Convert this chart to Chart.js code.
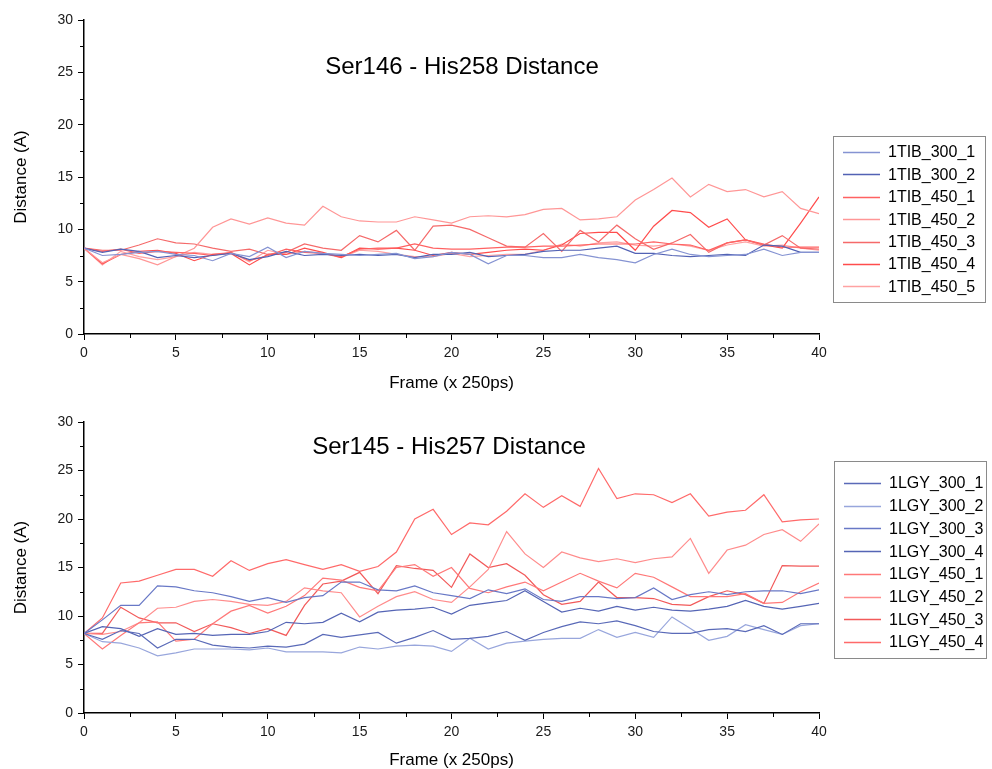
<!DOCTYPE html>
<html>
<head>
<meta charset="utf-8">
<title>Ser-His distances</title>
<script src="https://cdn.jsdelivr.net/npm/chart.js@4.4.1/dist/chart.umd.min.js"></script>
<style>
  html, body { margin: 0; padding: 0; background: #fff; }
  #wrap { position: relative; width: 992px; height: 769px; }
  canvas { position: absolute; left: 0; }
  #top { top: 0; }
  #bottom { top: 395px; }
</style>
</head>
<body>
<div id="wrap">
  <canvas id="top" width="992" height="395"></canvas>
  <canvas id="bottom" width="992" height="374"></canvas>
</div>
<script>
// frames (x 250ps)
const frames = [0, 1, 2, 3, 4, 5, 6, 7, 8, 9, 10, 11, 12, 13, 14, 15, 16, 17, 18, 19, 20,
                21, 22, 23, 24, 25, 26, 27, 28, 29, 30, 31, 32, 33, 34, 35, 36, 37, 38, 39, 40];

// Ser146 - His258 (1TIB)
const tibLabels = ['1TIB_300_1', '1TIB_300_2', '1TIB_450_1', '1TIB_450_2', '1TIB_450_3', '1TIB_450_4', '1TIB_450_5'];
const tib300_1 = [8.2, 7.5, 7.6, 7.8, 7.9, 7.6, 7.5, 7.0, 7.7, 7.4, 8.3, 7.3, 7.9, 7.7, 7.6, 7.5, 7.6, 7.7, 7.2, 7.4, 7.8,
                  7.6, 6.7, 7.5, 7.5, 7.3, 7.3, 7.6, 7.3, 7.1, 6.8, 7.6, 8.1, 7.6, 7.4, 7.5, 7.6, 8.1, 7.5, 7.8, 7.8];
const tib300_2 = [8.2, 7.8, 8.1, 7.9, 7.3, 7.5, 7.3, 7.5, 7.7, 7.1, 7.4, 7.9, 7.5, 7.6, 7.5, 7.6, 7.5, 7.6, 7.3, 7.6, 7.6,
                  7.8, 7.4, 7.5, 7.6, 7.9, 8.0, 8.0, 8.2, 8.4, 7.7, 7.7, 7.5, 7.4, 7.5, 7.6, 7.5, 8.5, 8.4, 7.8, 7.8];
const tib450_1 = [8.2, 7.9, 8.1, 7.7, 7.9, 7.8, 7.7, 7.5, 7.8, 7.0, 7.5, 8.1, 7.8, 7.7, 7.4, 8.1, 8.2, 8.2, 8.6, 8.2, 8.1,
                  8.1, 8.2, 8.3, 8.3, 8.4, 8.4, 8.5, 8.6, 8.6, 8.6, 8.8, 8.6, 8.5, 8.0, 8.7, 9.0, 8.6, 8.3, 8.3, 8.3];
const tib450_2 = [8.2, 6.8, 7.6, 7.2, 6.6, 7.4, 8.2, 10.2, 11.0, 10.5, 11.1, 10.6, 10.4, 12.2, 11.2, 10.8, 10.7, 10.7, 11.2, 10.9, 10.6,
                  11.2, 11.3, 11.2, 11.4, 11.9, 12.0, 10.9, 11.0, 11.2, 12.8, 13.8, 14.9, 13.1, 14.3, 13.6, 13.8, 13.1, 13.6, 12.0, 11.5];
const tib450_3 = [8.2, 8.0, 8.0, 8.5, 9.1, 8.7, 8.6, 8.2, 7.9, 8.1, 7.6, 7.8, 8.6, 8.2, 8.0, 9.4, 8.8, 9.9, 8.0, 10.3, 10.4,
                  10.0, 9.2, 8.4, 8.3, 9.6, 7.9, 9.9, 8.8, 10.4, 9.1, 8.1, 8.7, 9.5, 7.8, 8.7, 9.0, 8.5, 9.4, 8.2, 8.1];
const tib450_4 = [8.2, 6.7, 7.6, 7.9, 8.0, 7.7, 7.0, 7.6, 7.7, 6.6, 7.6, 7.6, 8.2, 7.8, 7.3, 8.2, 8.1, 8.2, 8.0, 7.5, 7.8,
                  7.6, 7.8, 8.0, 8.1, 8.0, 8.5, 9.6, 9.7, 9.7, 8.0, 10.3, 11.8, 11.6, 10.2, 11.0, 9.0, 8.5, 8.2, 10.6, 13.1];
const tib450_5 = [8.2, 6.6, 7.9, 7.4, 7.1, 7.4, 7.8, 7.6, 7.8, 6.9, 8.0, 7.6, 7.9, 7.7, 7.3, 8.0, 7.9, 7.6, 7.4, 7.4, 7.7,
                  7.4, 7.5, 7.6, 7.6, 8.0, 8.6, 8.4, 8.7, 8.8, 8.5, 8.4, 8.6, 8.4, 8.0, 8.5, 8.8, 8.4, 8.5, 8.2, 8.0];

// Ser145 - His257 (1LGY)
const lgyLabels = ['1LGY_300_1', '1LGY_300_2', '1LGY_300_3', '1LGY_300_4', '1LGY_450_1', '1LGY_450_2', '1LGY_450_3', '1LGY_450_4'];
const lgy300_1 = [8.2, 7.6, 8.5, 8.2, 6.7, 7.6, 7.6, 7.0, 6.8, 6.7, 6.9, 6.8, 7.1, 8.1, 7.8, 8.05, 8.3, 7.2, 7.8, 8.5, 7.6,
                  7.7, 7.9, 8.4, 7.5, 8.3, 8.9, 9.4, 9.2, 9.5, 9.0, 8.4, 8.2, 8.2, 8.6, 8.7, 8.4, 9.0, 8.1, 9.2, 9.2];
const lgy300_2 = [8.2, 7.35, 7.2, 6.7, 5.9, 6.2, 6.6, 6.6, 6.6, 6.5, 6.7, 6.3, 6.3, 6.3, 6.2, 6.8, 6.6, 6.9, 7.0, 6.9, 6.35,
                  7.7, 6.6, 7.2, 7.4, 7.6, 7.7, 7.7, 8.6, 7.8, 8.3, 7.8, 9.9, 8.7, 7.5, 7.9, 9.1, 8.6, 8.1, 9.0, 9.2];
const lgy300_3 = [8.2, 9.6, 11.1, 11.1, 13.1, 13.0, 12.6, 12.4, 12.0, 11.5, 11.9, 11.4, 11.9, 12.1, 13.5, 13.5, 12.7, 12.6, 13.1, 12.4, 12.1,
                  11.8, 12.7, 12.3, 12.8, 11.7, 11.5, 12.0, 12.0, 11.8, 11.9, 12.9, 11.7, 12.2, 12.5, 12.2, 12.5, 12.6, 12.6, 12.3, 12.7];
const lgy300_4 = [8.2, 8.9, 8.7, 7.9, 8.7, 8.1, 8.2, 8.0, 8.1, 8.1, 8.4, 9.35, 9.2, 9.35, 10.3, 9.4, 10.4, 10.6, 10.7, 10.9, 10.2,
                  11.1, 11.35, 11.6, 12.6, 11.5, 10.4, 10.8, 10.5, 11.0, 10.6, 10.9, 10.6, 10.5, 10.7, 11.0, 11.6, 11.0, 10.7, 11.0, 11.3];
const lgy450_1 = [8.2, 6.6, 8.0, 9.3, 9.4, 7.4, 7.6, 9.2, 10.5, 11.1, 10.3, 11.0, 12.1, 13.9, 13.7, 12.95, 12.6, 15.0, 15.3, 14.1, 15.0,
                  12.85, 12.4, 13.0, 13.5, 12.6, 13.5, 14.4, 13.6, 12.9, 14.4, 14.0, 13.0, 12.0, 12.0, 12.0, 12.3, 11.3, 11.4, 12.5, 13.4];
const lgy450_2 = [8.2, 8.1, 8.4, 9.3, 10.8, 10.9, 11.5, 11.7, 11.5, 11.2, 11.1, 11.5, 12.9, 12.6, 12.4, 9.9, 11.0, 12.0, 12.5, 11.7, 11.4,
                  13.0, 14.8, 18.7, 16.4, 15.0, 16.6, 16.0, 15.6, 15.9, 15.5, 15.9, 16.1, 18.0, 14.4, 16.8, 17.3, 18.4, 18.9, 17.7, 19.5];
const lgy450_3 = [8.2, 8.2, 10.9, 9.8, 9.3, 9.3, 8.4, 9.2, 8.8, 8.2, 8.7, 8.0, 11.1, 13.3, 13.6, 14.5, 12.3, 15.2, 14.9, 14.7, 12.95,
                  16.4, 15.0, 15.4, 14.2, 12.2, 11.2, 11.5, 13.5, 11.9, 11.9, 11.8, 11.2, 11.1, 12.0, 12.6, 12.2, 11.3, 15.2, 15.15, 15.15];
const lgy450_4 = [8.2, 9.8, 13.4, 13.6, 14.2, 14.8, 14.8, 14.1, 15.7, 14.7, 15.4, 15.8, 15.3, 14.8, 15.3, 14.6, 15.1, 16.6, 20.0, 21.0, 18.4,
                  19.6, 19.4, 20.8, 22.6, 21.2, 22.4, 21.3, 25.2, 22.1, 22.6, 22.5, 21.7, 22.6, 20.3, 20.7, 20.9, 22.5, 19.7, 19.9, 20.0];

const FONT = '"Liberation Sans", Arial, Helvetica, sans-serif';

const tibColors = ['#8593d2', '#5262b4', '#ff6262', '#ff9696', '#f56a6a', '#ff4c4c', '#ffa2a2'];
const lgyColors = ['#5a6ab8', '#98a6dc', '#6878c6', '#5565b5', '#ff7878', '#ff8c8c', '#f25a5a', '#ff6a6a'];

// minor ticks, titles, axis titles and the boxed legend
const decor = {
  id: 'decor',
  afterDraw(chart, args, o) {
    const ctx = chart.ctx;
    const x = chart.scales.x, y = chart.scales.y;
    ctx.save();

    ctx.strokeStyle = '#000';
    ctx.lineWidth = 1;
    ctx.beginPath();
    for (let v = 2.5; v < 40; v += 5) {
      const px = Math.round(x.getPixelForValue(v)) + 0.5;
      ctx.moveTo(px, y.bottom);
      ctx.lineTo(px, y.bottom + 4);
    }
    for (let v = 2.5; v < 30; v += 5) {
      const py = Math.round(y.getPixelForValue(v)) + 0.5;
      ctx.moveTo(x.left, py);
      ctx.lineTo(x.left - 4, py);
    }
    ctx.stroke();

    ctx.fillStyle = '#000';
    ctx.textAlign = 'center';
    ctx.textBaseline = 'middle';
    ctx.font = '24px ' + FONT;
    ctx.fillText(o.title, o.titleX, o.titleY);

    ctx.font = '17px ' + FONT;
    ctx.fillText('Frame (x 250ps)', (x.left + x.right) / 2, o.xTitleY);
    ctx.save();
    ctx.translate(21, (y.top + y.bottom) / 2);
    ctx.rotate(-Math.PI / 2);
    ctx.fillText('Distance (A)', 0, 0);
    ctx.restore();

    const L = o.legend;
    ctx.strokeStyle = '#8a8a8a';
    ctx.lineWidth = 1;
    ctx.strokeRect(L.x + 0.5, L.y + 0.5, L.w, L.h);
    ctx.font = '16px ' + FONT;
    ctx.textAlign = 'left';
    chart.data.datasets.forEach((ds, i) => {
      const ry = L.y + L.first + i * L.step;
      ctx.strokeStyle = ds.borderColor;
      ctx.lineWidth = 1.5;
      ctx.beginPath();
      ctx.moveTo(L.x + 10, Math.round(ry) + 0.5);
      ctx.lineTo(L.x + 47, Math.round(ry) + 0.5);
      ctx.stroke();
      ctx.fillStyle = '#000';
      ctx.fillText(ds.label, L.x + 55, ry + 1);
    });
    ctx.restore();
  }
};

function makeChart(id, labels, series, colors, padTop, xAxisH, deco) {
  return new Chart(document.getElementById(id), {
    type: 'line',
    data: {
      labels: frames,
      datasets: series.map((s, i) => ({
        label: labels[i],
        data: s,
        borderColor: colors[i],
        borderWidth: 1.2,
        pointRadius: 0,
        tension: 0,
        fill: false
      }))
    },
    options: {
      responsive: false,
      animation: false,
      layout: { padding: { left: 0, right: 173, top: padTop, bottom: 0 } },
      plugins: {
        legend: { display: false },
        tooltip: { enabled: false },
        decor: deco
      },
      scales: {
        x: {
          type: 'linear',
          min: 0,
          max: 40,
          ticks: { stepSize: 5, color: '#1a1a1a', padding: 5, font: { family: FONT, size: 14 } },
          grid: { drawOnChartArea: false, tickLength: 6, tickColor: '#000', tickWidth: 1 },
          border: { color: '#000', width: 1.5 },
          afterFit(s) { s.height = xAxisH; }
        },
        y: {
          min: 0,
          max: 30,
          ticks: { stepSize: 5, color: '#1a1a1a', padding: 5, font: { family: FONT, size: 14 } },
          grid: { drawOnChartArea: false, tickLength: 6, tickColor: '#000', tickWidth: 1 },
          border: { color: '#000', width: 1.5 },
          afterFit(s) { s.width = 84; }
        }
      }
    },
    plugins: [decor]
  });
}

makeChart('top', tibLabels,
  [tib300_1, tib300_2, tib450_1, tib450_2, tib450_3, tib450_4, tib450_5],
  tibColors, 20, 61,
  { title: 'Ser146 - His258 Distance', titleX: 462, titleY: 67, xTitleY: 383,
    legend: { x: 833, y: 136, w: 152, h: 166, first: 16, step: 22.4 } });

makeChart('bottom', lgyLabels,
  [lgy300_1, lgy300_2, lgy300_3, lgy300_4, lgy450_1, lgy450_2, lgy450_3, lgy450_4],
  lgyColors, 27, 56,
  { title: 'Ser145 - His257 Distance', titleX: 449, titleY: 52, xTitleY: 365,
    legend: { x: 834, y: 66, w: 152, h: 197, first: 22, step: 22.7 } });
</script>
</body>
</html>
